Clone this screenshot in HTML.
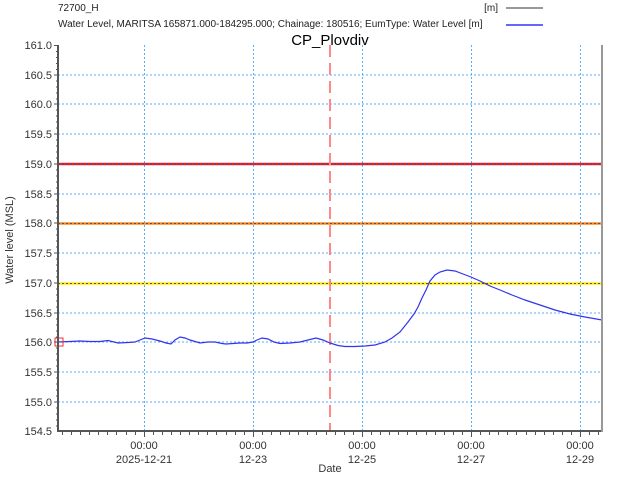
<!DOCTYPE html><html><head><style>body{margin:0;background:#fff}svg{font-family:"Liberation Sans",sans-serif}</style></head><body>
<svg width="640" height="480" viewBox="0 0 640 480" xmlns="http://www.w3.org/2000/svg">
<rect width="640" height="480" fill="#fff"/>
<text x="58" y="11" font-size="10" fill="#222">72700_H</text>
<text x="498" y="11" font-size="10" fill="#222" text-anchor="end">[m]</text>
<line x1="506" y1="8" x2="543" y2="8" stroke="#333" stroke-width="1"/>
<text x="58" y="27" font-size="10" fill="#222">Water Level, MARITSA 165871.000-184295.000; Chainage: 180516; EumType: Water Level [m]</text>
<line x1="506" y1="25" x2="543" y2="25" stroke="#6666ff" stroke-width="2"/>
<text x="330" y="45" font-size="15" fill="#000" text-anchor="middle">CP_Plovdiv</text>
<g stroke="#3399ff" stroke-width="1" stroke-dasharray="2,2" opacity="0.8">
<line x1="58" y1="75" x2="602" y2="75"/><line x1="58" y1="104" x2="602" y2="104"/><line x1="58" y1="134" x2="602" y2="134"/><line x1="58" y1="194" x2="602" y2="194"/><line x1="58" y1="253" x2="602" y2="253"/><line x1="58" y1="313" x2="602" y2="313"/><line x1="58" y1="342" x2="602" y2="342"/><line x1="58" y1="372" x2="602" y2="372"/><line x1="58" y1="402" x2="602" y2="402"/>
<line x1="144.5" y1="45" x2="144.5" y2="431"/><line x1="253.5" y1="45" x2="253.5" y2="431"/><line x1="362.5" y1="45" x2="362.5" y2="431"/><line x1="471.5" y1="45" x2="471.5" y2="431"/><line x1="580.5" y1="45" x2="580.5" y2="431"/>
</g>
<line x1="58" y1="164" x2="602" y2="164" stroke="#ee2222" stroke-width="2.5"/>
<line x1="58" y1="164" x2="602" y2="164" stroke="#3344aa" stroke-width="1" stroke-dasharray="2,2"/>
<line x1="58" y1="223.5" x2="602" y2="223.5" stroke="#ff8822" stroke-width="2.5"/>
<line x1="58" y1="223.5" x2="602" y2="223.5" stroke="#555" stroke-width="1" stroke-dasharray="2,2"/>
<line x1="58" y1="283.5" x2="602" y2="283.5" stroke="#ffee00" stroke-width="2.5"/>
<line x1="58" y1="283.5" x2="602" y2="283.5" stroke="#555" stroke-width="1" stroke-dasharray="2,2"/>
<line x1="330" y1="45" x2="330" y2="431" stroke="#ff8888" stroke-width="2" stroke-dasharray="12,6"/>
<polyline fill="none" stroke="#3333ee" stroke-width="1.2" points="58,342 70,341.5 80,341 90,341.5 100,341.5 108,340.5 118,343 128,342.5 135,342 140,340 145,338 152,339 160,341 166,343 171,344 175,340 180,337 185,338 190,340 200,343 208,342 215,342 222,343.5 226,344 233,343.5 240,343 247,343 253,342 257,340 262,338 268,339 274,342 280,343.5 290,343 300,342 308,340 316,338 323,340 330,343 338,345.5 345,346.5 355,346.5 365,346 375,345 385,342 392,338 400,332 408,322 414,314 418,307 422,298 426,290 430,281 435,275 440,272 447,270 455,271 463,274 471,277 480,281 490,286 500,290 512,295 525,300 540,305 555,310 570,314 585,317 602,320"/>
<rect x="55" y="338" width="8" height="8" fill="none" stroke="#ee3333" stroke-width="1"/>
<line x1="58" y1="45" x2="58" y2="432" stroke="#555" stroke-width="2"/>
<line x1="57" y1="431" x2="603" y2="431" stroke="#555" stroke-width="2"/>
<line x1="602" y1="45" x2="602" y2="432" stroke="#999" stroke-width="2"/>
<g font-size="11" fill="#333" text-anchor="end">
<text x="52" y="49">161.0</text><text x="52" y="79">160.5</text><text x="52" y="108">160.0</text><text x="52" y="138">159.5</text><text x="52" y="168">159.0</text><text x="52" y="198">158.5</text><text x="52" y="227">158.0</text><text x="52" y="257">157.5</text><text x="52" y="287">157.0</text><text x="52" y="317">156.5</text><text x="52" y="346">156.0</text><text x="52" y="376">155.5</text><text x="52" y="406">155.0</text><text x="52" y="435">154.5</text>
</g>
<g stroke="#555" stroke-width="1">
<path d="M54,45.5h4M54,75h4M54,104h4M54,134h4M54,164h4M54,194h4M54,223h4M54,253h4M54,283h4M54,313h4M54,342h4M54,372h4M54,402h4"/>
<path d="M56,51.5h2M56,57.5h2M56,63.5h2M56,69.5h2M56,81h2M56,87h2M56,93h2M56,99h2M56,110h2M56,116h2M56,122h2M56,128h2M56,140h2M56,146h2M56,152h2M56,158h2M56,170h2M56,176h2M56,182h2M56,188h2M56,200h2M56,206h2M56,212h2M56,218h2M56,229h2M56,235h2M56,241h2M56,247h2M56,259h2M56,265h2M56,271h2M56,277h2M56,289h2M56,295h2M56,301h2M56,307h2M56,319h2M56,325h2M56,331h2M56,337h2M56,348h2M56,354h2M56,360h2M56,366h2M56,378h2M56,384h2M56,390h2M56,396h2M56,408h2M56,414h2M56,420h2M56,426h2"/>
<path d="M62.5,431v4M71.5,431v4M80.5,431v4M89.5,431v4M98.5,431v4M107.5,431v4M116.5,431v4M126.5,431v4M135.5,431v4M144.5,431v6M153.5,431v4M162.5,431v4M171.5,431v4M180.5,431v4M189.5,431v4M198.5,431v4M207.5,431v4M216.5,431v4M226.5,431v4M235.5,431v4M244.5,431v4M253.5,431v6M262.5,431v4M271.5,431v4M280.5,431v4M289.5,431v4M298.5,431v4M307.5,431v4M316.5,431v4M326.5,431v4M335.5,431v4M344.5,431v4M353.5,431v4M362.5,431v6M371.5,431v4M380.5,431v4M389.5,431v4M398.5,431v4M407.5,431v4M416.5,431v4M426.5,431v4M435.5,431v4M444.5,431v4M453.5,431v4M462.5,431v4M471.5,431v6M480.5,431v4M489.5,431v4M498.5,431v4M507.5,431v4M516.5,431v4M526.5,431v4M535.5,431v4M544.5,431v4M553.5,431v4M562.5,431v4M571.5,431v4M580.5,431v6M589.5,431v4M598.5,431v4"/>
</g>
<g font-size="11" fill="#333" text-anchor="middle">
<text x="144" y="449">00:00</text><text x="144" y="463">2025-12-21</text>
<text x="253" y="449">00:00</text><text x="253" y="463">12-23</text>
<text x="362" y="449">00:00</text><text x="362" y="463">12-25</text>
<text x="471" y="449">00:00</text><text x="471" y="463">12-27</text>
<text x="580" y="449">00:00</text><text x="580" y="463">12-29</text>
<text x="330" y="472">Date</text>
</g>
<text transform="translate(13,240) rotate(-90)" font-size="11" fill="#333" text-anchor="middle">Water level (MSL)</text>
</svg></body></html>
